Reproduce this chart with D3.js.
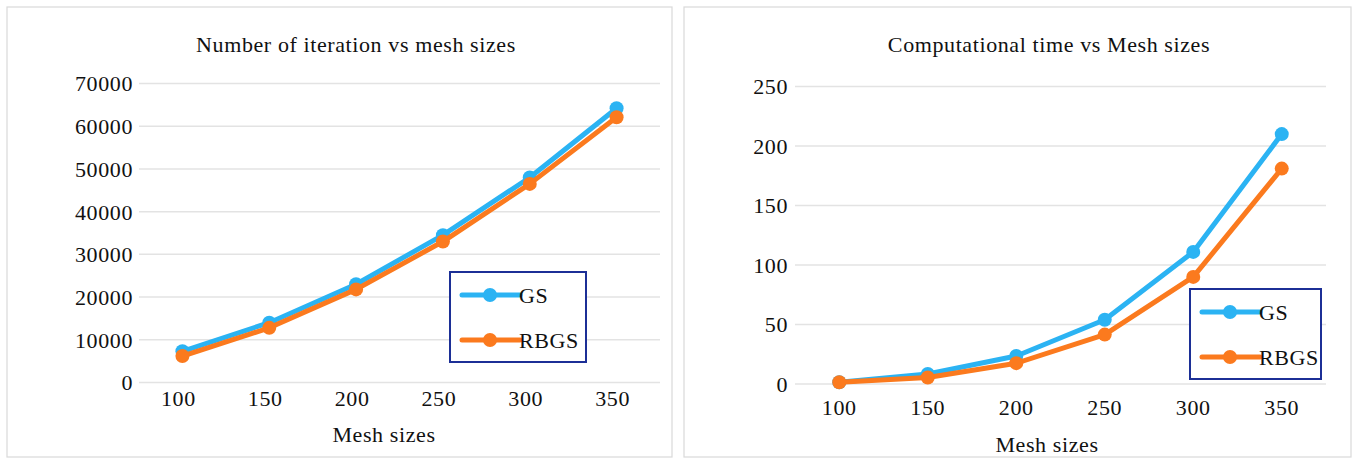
<!DOCTYPE html>
<html><head><meta charset="utf-8">
<script src="https://cdn.jsdelivr.net/npm/d3@7"></script>
<style>body{margin:0;background:#fff}svg{display:block}text{font-family:"Liberation Serif","Times New Roman",serif;fill:#111;letter-spacing:0.6px}</style>
</head><body><svg id="c" width="1356" height="459"></svg>
<script>
const categories = ["100","150","200","250","300","350"];
const seriesNames = ["GS","RBGS"];
const iterGS   = [7300, 14000, 23000, 34500, 48000, 64200];
const iterRBGS = [6200, 12800, 21800, 33000, 46500, 62100];
const timeGS   = [1.5, 8.4, 23.5, 54, 111, 210];
const timeRBGS = [1.5, 5.5, 17.5, 41.5, 90, 181];
const iterTicks = [0,10000,20000,30000,40000,50000,60000,70000];
const timeTicks = [0,50,100,150,200,250];
const colors = {GS:"#2bb3f3", RBGS:"#fb7a1e"};

const svg = d3.select("#c");
const FS = 22;

function panel(o){
  svg.append("rect").attr("x",o.px0).attr("y",7).attr("width",o.px1-o.px0).attr("height",450)
    .attr("fill","#fff").attr("stroke","#d9d9d9").attr("stroke-width",1.2);
  const x = d3.scaleBand().domain(categories).range(o.xr).padding(0);
  const y = d3.scaleLinear().domain([0,o.ymax]).range(o.yr);
  const g = svg.append("g");
  g.selectAll(".grid").data(o.ticks).join("line")
    .attr("x1",o.xr[0]).attr("x2",o.xr[1]).attr("y1",d=>y(d)).attr("y2",d=>y(d))
    .attr("stroke","#e3e3e3").attr("stroke-width",1.5);
  const ya = d3.axisLeft(y).tickValues(o.ticks).tickSize(0).tickPadding(0).tickFormat(d3.format("d"));
  const yg = g.append("g").attr("transform",`translate(${o.ylx},0)`).call(ya);
  yg.select(".domain").remove();
  yg.attr("font-family",null).attr("font-size",null);
  yg.selectAll("text").attr("font-size",FS).attr("dy","0.34em").attr("fill","#111");
  const xa = d3.axisBottom(x).tickSize(0).tickPadding(0);
  const xg = g.append("g").attr("transform",`translate(${o.xlOff},${o.xly})`).call(xa);
  xg.select(".domain").remove();
  xg.attr("font-family",null).attr("font-size",null);
  xg.selectAll("text").attr("font-size",FS).attr("dy",0).attr("fill","#111");
  g.append("text").attr("x",o.tx).attr("y",o.ty).attr("text-anchor","middle").attr("font-size",FS).text(o.title);
  g.append("text").attr("x",o.axx).attr("y",o.axy).attr("text-anchor","middle").attr("font-size",FS).text("Mesh sizes");
  const line = d3.line().x((d,i)=>x(categories[i])+x.bandwidth()/2).y(d=>y(d));
  o.series.forEach(s=>{
    g.append("path").datum(s.vals).attr("d",line).attr("fill","none")
      .attr("stroke",colors[s.name]).attr("stroke-width",5).attr("stroke-linejoin","round");
    g.selectAll(null).data(s.vals).join("circle")
      .attr("cx",(d,i)=>x(categories[i])+x.bandwidth()/2).attr("cy",d=>y(d)).attr("r",7)
      .attr("fill",colors[s.name]);
  });
  const L = o.legend;
  g.append("rect").attr("x",L.x).attr("y",L.y).attr("width",L.w).attr("height",L.h)
    .attr("fill","#fff").attr("stroke","#1c2f96").attr("stroke-width",2);
  seriesNames.forEach((n,i)=>{
    const yy = L.y + L.rows[i];
    g.append("line").attr("x1",L.x+12).attr("x2",L.x+70).attr("y1",yy).attr("y2",yy)
      .attr("stroke",colors[n]).attr("stroke-width",5).attr("stroke-linecap","round");
    g.append("circle").attr("cx",L.x+40).attr("cy",yy).attr("r",7).attr("fill",colors[n]);
    g.append("text").attr("x",L.x+69).attr("y",yy+8).attr("font-size",FS).text(n);
  });
}

panel({px0:7,px1:672,xr:[139,660],yr:[382.5,83.5],ymax:70000,ticks:iterTicks,ylx:133,
  xlOff:-4,xly:406,tx:356,ty:52,axx:384,axy:442,title:"Number of iteration vs mesh sizes",
  series:[{name:"GS",vals:iterGS},{name:"RBGS",vals:iterRBGS}],
  legend:{x:450,y:272,w:136,h:90,rows:[23,68]}});
panel({px0:684,px1:1351,xr:[795,1326],yr:[384,86.5],ymax:250,ticks:timeTicks,ylx:788,
  xlOff:0,xly:415,tx:1049,ty:52,axx:1047,axy:452,title:"Computational time vs Mesh sizes",
  series:[{name:"GS",vals:timeGS},{name:"RBGS",vals:timeRBGS}],
  legend:{x:1190,y:289,w:131,h:90,rows:[23,68]}});
</script></body></html>
